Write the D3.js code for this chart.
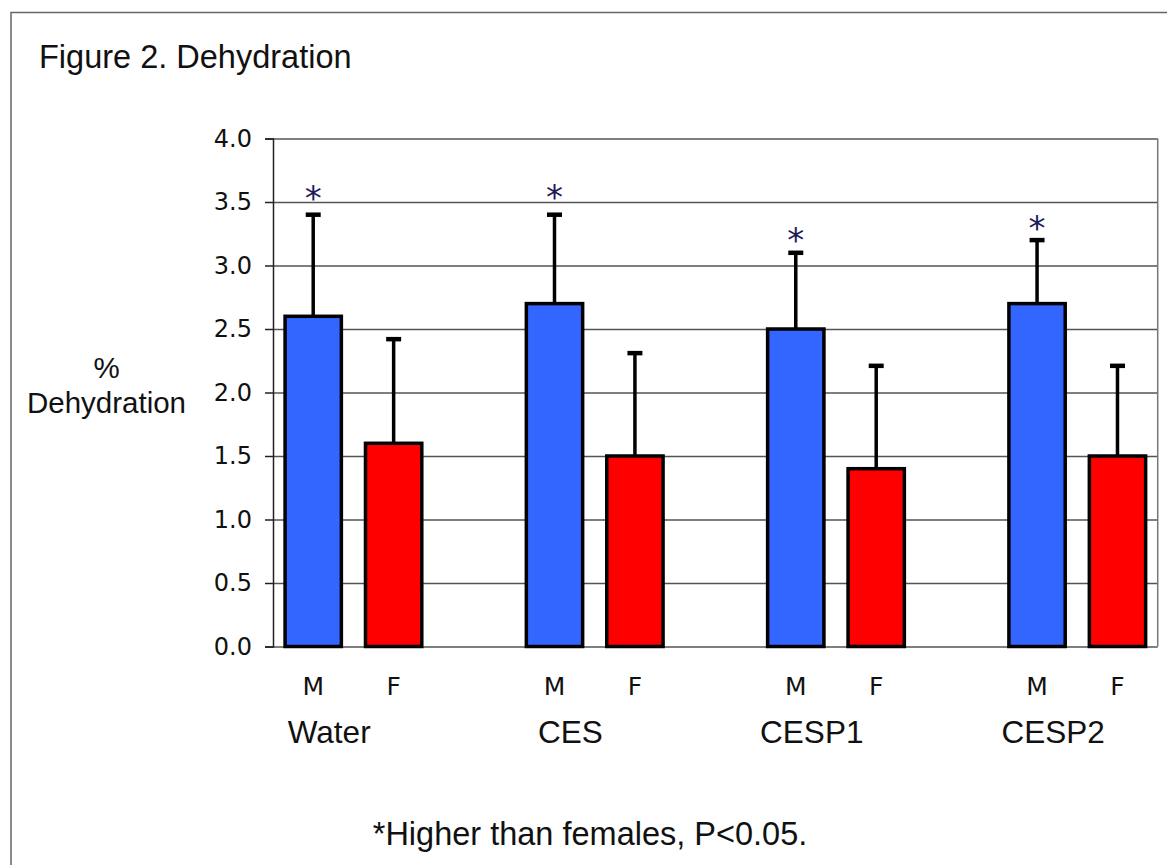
<!DOCTYPE html>
<html>
<head>
<meta charset="utf-8">
<script src="https://cdn.jsdelivr.net/npm/d3@7"></script>
<style>
  html, body { margin: 0; padding: 0; background: #fff; }
  svg { display: block; }
</style>
</head>
<body>
<div id="container"></div>
<script>
/** DATA */
const groups = ["Water", "CES", "CESP1", "CESP2"];
const sexes = ["M", "F"];
const maleMeans = [2.6, 2.7, 2.5, 2.7];
const maleErr = [0.8, 0.7, 0.6, 0.5];
const femaleMeans = [1.6, 1.5, 1.4, 1.5];
const femaleErr = [0.82, 0.81, 0.81, 0.71];
// where the "*" sits (in % units) above the male bars
const starLevel = [3.58, 3.59, 3.25, 3.34];
const yTicks = [0, 0.5, 1, 1.5, 2, 2.5, 3, 3.5, 4];

/** CONSTANTS AND GLOBALS */
const width = 1167,
  height = 865,
  margin = { top: 138.5, bottom: 218.5, left: 273, right: 9.3 };

const sans = "'Liberation Sans', Arial, sans-serif";
const verdana = "'DejaVu Sans', Verdana, sans-serif";
const colors = { M: "#3366ff", F: "#ff0000" };

let svg, x, y;

/** INITIALIZING FUNCTION */
function init() {
  svg = d3.select("#container")
    .append("svg")
    .attr("width", width)
    .attr("height", height);

  // figure frame
  svg.append("rect")
    .attr("x", 11).attr("y", 12.5)
    .attr("width", width + 20).attr("height", height + 20)
    .attr("fill", "none")
    .attr("stroke", "#666")
    .attr("stroke-width", 1.5);

  // slots: M, F, gap, M, F, gap ... (Excel style spacing)
  const slots = [];
  groups.forEach((g, i) => {
    sexes.forEach(s => slots.push(g + "|" + s));
    if (i < groups.length - 1) slots.push("gap" + i);
  });

  x = d3.scaleBand()
    .domain(slots)
    .range([margin.left, width - margin.right])
    .paddingInner(0.3)
    .paddingOuter(0.15);

  y = d3.scaleLinear()
    .domain([0, 4])
    .range([height - margin.bottom, margin.top]);

  draw();
}

/** DRAW FUNCTION */
function draw() {
  const bars = [];
  groups.forEach((g, i) => {
    bars.push({ group: g, sex: "M", value: maleMeans[i], err: maleErr[i], star: starLevel[i] });
    bars.push({ group: g, sex: "F", value: femaleMeans[i], err: femaleErr[i], star: null });
  });

  // gridlines
  svg.append("g")
    .attr("class", "grid")
    .attr("transform", `translate(${margin.left},0)`)
    .call(d3.axisLeft(y).tickValues(yTicks).tickSize(-(width - margin.left - margin.right)).tickFormat(""))
    .call(g => g.select(".domain").remove())
    .call(g => g.selectAll("line").attr("stroke", "#555").attr("stroke-width", 1.5));

  // right edge of plot area
  svg.append("line")
    .attr("x1", width - margin.right).attr("x2", width - margin.right)
    .attr("y1", y(4)).attr("y2", y(0))
    .attr("stroke", "#777").attr("stroke-width", 1.5);

  // y axis
  svg.append("g")
    .attr("transform", `translate(${margin.left},0)`)
    .call(d3.axisLeft(y).tickValues(yTicks).tickSize(8).tickPadding(13).tickFormat(d3.format(".1f")))
    .call(g => g.select(".domain").attr("stroke", "#222").attr("stroke-width", 1.5))
    .call(g => g.selectAll("line").attr("stroke", "#222").attr("stroke-width", 1.5))
    .call(g => g.selectAll("text")
      .attr("font-family", verdana)
      .attr("font-size", 24)
      .attr("fill", "#111"));

  // error bars (upper only)
  const err = svg.append("g").selectAll("g")
    .data(bars)
    .join("g");
  err.append("line")
    .attr("x1", d => x(d.group + "|" + d.sex) + x.bandwidth() / 2)
    .attr("x2", d => x(d.group + "|" + d.sex) + x.bandwidth() / 2)
    .attr("y1", d => y(d.value))
    .attr("y2", d => y(d.value + d.err))
    .attr("stroke", "#000")
    .attr("stroke-width", 3.5);
  err.append("line")
    .attr("x1", d => x(d.group + "|" + d.sex) + x.bandwidth() / 2 - 7.5)
    .attr("x2", d => x(d.group + "|" + d.sex) + x.bandwidth() / 2 + 7.5)
    .attr("y1", d => y(d.value + d.err))
    .attr("y2", d => y(d.value + d.err))
    .attr("stroke", "#000")
    .attr("stroke-width", 4.5);

  // bars
  svg.append("g").selectAll("rect")
    .data(bars)
    .join("rect")
    .attr("x", d => x(d.group + "|" + d.sex))
    .attr("y", d => y(d.value))
    .attr("width", x.bandwidth())
    .attr("height", d => y(0) - y(d.value))
    .attr("fill", d => colors[d.sex])
    .attr("stroke", "#000")
    .attr("stroke-width", 3.5);

  // significance stars
  svg.append("g").selectAll("text")
    .data(bars.filter(d => d.star !== null))
    .join("text")
    .attr("x", d => x(d.group + "|" + d.sex) + x.bandwidth() / 2)
    .attr("y", d => y(d.star) + 18)
    .attr("text-anchor", "middle")
    .attr("font-family", verdana)
    .attr("font-size", 34)
    .attr("fill", "#1c1c5a")
    .text("*");

  // M / F labels
  svg.append("g").selectAll("text")
    .data(bars)
    .join("text")
    .attr("x", d => x(d.group + "|" + d.sex) + x.bandwidth() / 2)
    .attr("y", 695)
    .attr("text-anchor", "middle")
    .attr("font-family", verdana)
    .attr("font-size", 25)
    .attr("fill", "#111")
    .text(d => d.sex);

  // group labels
  svg.append("g").selectAll("text")
    .data(groups)
    .join("text")
    .attr("x", g => x(g + "|M") + x.bandwidth() / 2 + 16)
    .attr("y", 743)
    .attr("text-anchor", "middle")
    .attr("font-family", sans)
    .attr("font-size", 31.5)
    .attr("fill", "#111")
    .text(g => g);

  // title
  svg.append("text")
    .attr("x", 39).attr("y", 68)
    .attr("font-family", sans)
    .attr("font-size", 32.5)
    .attr("fill", "#111")
    .text("Figure 2. Dehydration");

  // y label
  const yl = svg.append("text")
    .attr("text-anchor", "middle")
    .attr("font-family", sans)
    .attr("font-size", 29.5)
    .attr("fill", "#111");
  yl.append("tspan").attr("x", 106.5).attr("y", 378).text("%");
  yl.append("tspan").attr("x", 106.5).attr("y", 412.5).text("Dehydration");

  // footnote
  svg.append("text")
    .attr("x", 590).attr("y", 845)
    .attr("text-anchor", "middle")
    .attr("font-family", sans)
    .attr("font-size", 32.5)
    .attr("fill", "#111")
    .text("*Higher than females, P<0.05.");
}

init();
</script>
</body>
</html>
